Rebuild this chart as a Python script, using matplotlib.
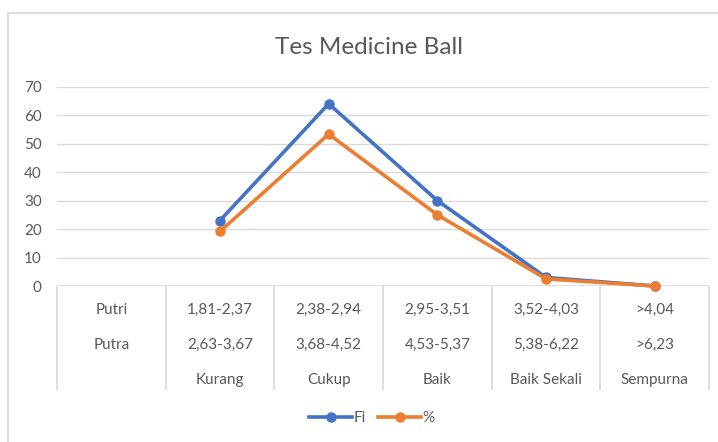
import matplotlib
matplotlib.use("Agg")
import matplotlib.pyplot as plt
import matplotlib.patches as mpatches
import numpy as np

plt.rcParams['font.family'] = ['Lato', 'DejaVu Sans']

title = "Tes Medicine Ball"
categories = ["Kurang", "Cukup", "Baik", "Baik Sekali", "Sempurna"]
putri = ["1,81-2,37", "2,38-2,94", "2,95-3,51", "3,52-4,03", ">4,04"]
putra = ["2,63-3,67", "3,68-4,52", "4,53-5,37", "5,38-6,22", ">6,23"]
row_labels = ["Putri", "Putra"]
fi = [23, 64, 30, 3, 0]
pct = [19.17, 53.33, 25, 2.5, 0]
yticks = [0, 10, 20, 30, 40, 50, 60, 70]

BLUE = "#4472C4"
ORANGE = "#ED7D31"
TXT = "#595959"
GRID = "#D9D9D9"
FS = 11

W, H = 718, 442
fig = plt.figure(figsize=(W / 100, H / 100), dpi=100)

# chart border (top/left visible)
fig.patches.append(mpatches.Rectangle((8 / W, -0.2), 1.2, 1.2 - 13 / H,
                                      transform=fig.transFigure, fill=False,
                                      edgecolor=GRID, linewidth=1.3))

x0, x1 = 57, 709
ytop, ybot = 86.7, 286
ax = fig.add_axes([x0 / W, 1 - ybot / H, (x1 - x0) / W, (ybot - ytop) / H])

n = len(categories) + 1
xs = np.arange(1, n)
ax.set_xlim(-0.5, n - 0.5)
ax.set_ylim(0, 70)
ax.set_yticks(yticks)
ax.set_yticklabels([str(v) for v in yticks])
ax.tick_params(axis='y', length=0, pad=11, labelsize=FS, labelcolor=TXT)
ax.set_xticks([])
for s in ax.spines.values():
    s.set_visible(False)
ax.grid(axis='y', color=GRID, linewidth=1.0)
ax.set_axisbelow(True)

# category axis line and table
ax.axhline(0, color=GRID, linewidth=1.2, zorder=1)
h_ax = ybot - ytop
bottom = -(390 - ybot) / h_ax
bounds = np.arange(-0.5, n, 1.0)
ax.vlines(bounds, bottom, 0, transform=ax.get_xaxis_transform(),
          colors=GRID, linewidth=1.2, clip_on=False)

ry = [-(310 - ybot) / h_ax, -(344.5 - ybot) / h_ax, -(380 - ybot) / h_ax]
tkw = dict(transform=ax.get_xaxis_transform(), ha='center', va='center',
           fontsize=FS, color=TXT, clip_on=False)
ax.text(0, ry[0], row_labels[0], **tkw)
ax.text(0, ry[1], row_labels[1], **tkw)
for i, x in enumerate(xs):
    ax.text(x, ry[0], putri[i], **tkw)
    ax.text(x, ry[1], putra[i], **tkw)
    ax.text(x, ry[2], categories[i], **tkw)

l1, = ax.plot(xs, fi, color=BLUE, linewidth=2.6, marker='o', markersize=6.5,
              label="Fi", zorder=3, clip_on=False, solid_joinstyle='round')
l2, = ax.plot(xs, pct, color=ORANGE, linewidth=2.6, marker='o', markersize=6.5,
              label="%", zorder=4, clip_on=False, solid_joinstyle='round')

fig.text(369 / W, 1 - 47 / H, title, ha='center', va='center', fontsize=17.5,
         color=TXT)

fig.legend(handles=[l1, l2], loc='center', bbox_to_anchor=(372 / W, 1 - 418 / H),
           ncol=2, frameon=False, fontsize=FS, labelcolor=TXT, numpoints=1,
           handlelength=2.8, handletextpad=0.1, columnspacing=0.8,
           borderpad=0.1)

fig.savefig("out.png", dpi=100)
